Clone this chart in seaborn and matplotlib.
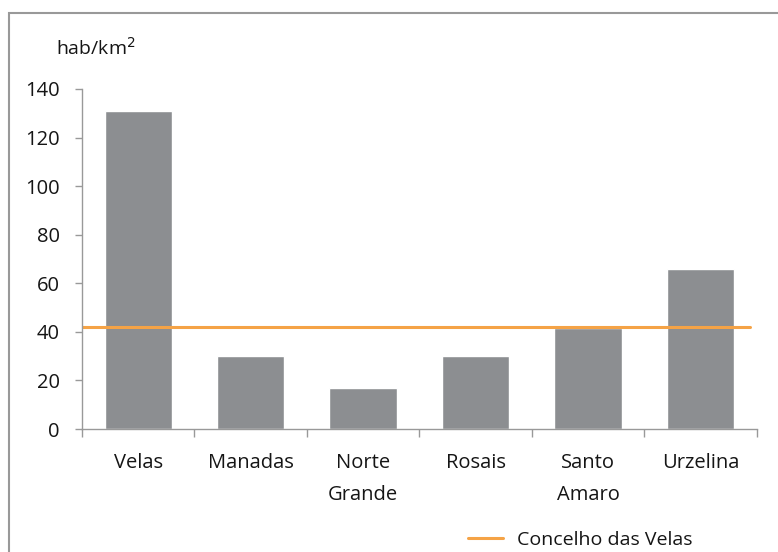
import matplotlib
matplotlib.use("Agg")
import matplotlib.pyplot as plt
import seaborn as sns
import pandas as pd
from matplotlib.patches import Rectangle
from matplotlib.lines import Line2D

# data
freguesias = ['Velas', 'Manadas', 'Norte\nGrande', 'Rosais', 'Santo\nAmaro', 'Urzelina']
densidade = [131, 30, 17, 30, 41.5, 66]
concelho = 41.8
yticks = [0, 20, 40, 60, 80, 100, 120, 140]

sns.set_theme(style='white')
plt.rcParams['font.family'] = ['Open Sans', 'DejaVu Sans']

df = pd.DataFrame({'freguesia': freguesias, 'densidade': densidade})

fig = plt.figure(figsize=(7.78, 5.52), dpi=100)
ax = fig.add_axes([0.1054, 0.2228, 0.973 - 0.1054, 0.8388 - 0.2228])

sns.barplot(data=df, x='freguesia', y='densidade', color='#8c8e91',
            saturation=1, width=0.6, ax=ax)
ax.axhline(concelho, xmin=0, xmax=0.99, color='#f5a346', lw=2.2)

ax.set_xlim(-0.5, len(freguesias) - 0.5)
ax.set_ylim(0, 140)
ax.set_yticks(yticks)
ax.set_xlabel('')
ax.set_ylabel('')

txt = '#151515'
# ticks between categories
ax.set_xticks([i - 0.5 for i in range(len(freguesias) + 1)], minor=True)
ax.tick_params(axis='x', which='major', length=0, pad=17, labelsize=14.5, colors=txt)
ax.tick_params(axis='x', which='minor', length=6, width=1, color='#999999', direction='out', bottom=True)
ax.tick_params(axis='y', length=5, width=1, color='#999999', direction='out', left=True,
               labelsize=14.5, colors=txt, pad=11)
for lab in ax.get_xticklabels():
    lab.set_linespacing(1.85)
    lab.set_verticalalignment('top')

for s in ['top', 'right']:
    ax.spines[s].set_visible(False)
for s in ['left', 'bottom']:
    ax.spines[s].set_color('#999999')
    ax.spines[s].set_linewidth(1)

fig.text(56 / 778, 1 - 48 / 552, 'hab/km$^2$', fontsize=14, color=txt, va='center')

# frame around the chart
fig.patches.append(Rectangle((9 / 778, -0.1), 1.2, 1 - 13 / 552 + 0.1, transform=fig.transFigure,
                             fill=False, edgecolor='#999999', lw=1.5))

handle = Line2D([], [], color='#f5a346', lw=2.2)
fig.legend([handle], ['Concelho das Velas'], loc='center left',
           bbox_to_anchor=(460 / 778, 1 - 540 / 552), frameon=False, labelcolor=txt,
           fontsize=14, handlelength=1.8, handletextpad=0.75, borderaxespad=0)

fig.savefig('out.png', dpi=100)
